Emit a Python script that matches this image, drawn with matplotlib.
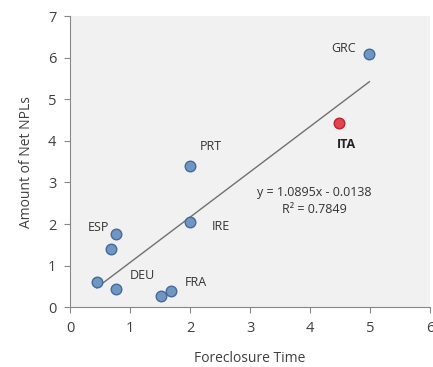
import matplotlib
matplotlib.use("Agg")
import matplotlib.pyplot as plt
import numpy as np

plt.rcParams['font.family'] = ['Open Sans', 'DejaVu Sans']

# Foreclosure time (years) vs. amount of net NPLs
countries = ["ESP_a", "DEU", "ESP_b", "ESP", "FRA_a", "FRA", "IRE", "PRT", "ITA", "GRC"]
foreclosure_time = [0.44, 0.77, 0.68, 0.77, 1.51, 1.68, 2.00, 2.00, 4.49, 4.99]
net_npls = [0.61, 0.43, 1.39, 1.75, 0.27, 0.38, 2.05, 3.39, 4.43, 6.09]

# Text labels and their anchor positions
label_names = ["ESP", "DEU", "FRA", "IRE", "PRT", "GRC", "ITA"]
label_x = [0.47, 1.21, 2.10, 2.51, 2.35, 4.56, 4.61]
label_y = [1.91, 0.77, 0.59, 1.93, 3.86, 6.22, 3.92]

# Linear trend line
slope = 1.0895
intercept = -0.0138
r_squared = 0.7849

fig = plt.figure(figsize=(4.33, 3.67), dpi=100)
ax = fig.add_axes([0.162, 0.163, 0.831, 0.793])
ax.set_facecolor("#f1f1f1")

xs = np.array(foreclosure_time)
ys = np.array(net_npls)
is_ita = np.array([c == "ITA" for c in countries])

ax.scatter(xs[~is_ita], ys[~is_ita], s=58, color="#7096c4",
           edgecolors="#46699a", linewidths=1.0, zorder=3)
ax.scatter(xs[is_ita], ys[is_ita], s=58, color="#e8434c",
           edgecolors="#b0262f", linewidths=1.0, zorder=3)

x_line = np.array([xs.min(), xs.max()])
ax.plot(x_line, slope * x_line + intercept, color="#707070", lw=1.0, zorder=2)

for name, lx, ly in zip(label_names, label_x, label_y):
    ax.text(lx, ly, name, ha="center", va="center", fontsize=9,
            color="#333333" if name != "ITA" else "#222222",
            fontweight="bold" if name == "ITA" else "normal")

ax.text(4.07, 2.75, f"y = {slope:.4f}x - {abs(intercept):.4f}", ha="center",
        va="center", fontsize=9, color="#333333")
ax.text(4.07, 2.35, f"R\u00b2 = {r_squared:.4f}", ha="center", va="center",
        fontsize=9, color="#333333")

ax.set_xlim(0, 6)
ax.set_ylim(0, 7)
ax.set_xticks(range(0, 7))
ax.set_yticks(range(0, 8))
ax.tick_params(axis="both", labelsize=10.5, colors="#404040", length=4,
               width=0.8, color="#888888", pad=6)
for side in ["top", "right"]:
    ax.spines[side].set_visible(False)
for side in ["left", "bottom"]:
    ax.spines[side].set_color("#888888")
    ax.spines[side].set_linewidth(0.8)

ax.set_xlabel("Foreclosure Time", fontsize=10, color="#404040", labelpad=11)
ax.set_ylabel("Amount of Net NPLs", fontsize=10, color="#404040", labelpad=10)

fig.savefig("out.png", dpi=100)
